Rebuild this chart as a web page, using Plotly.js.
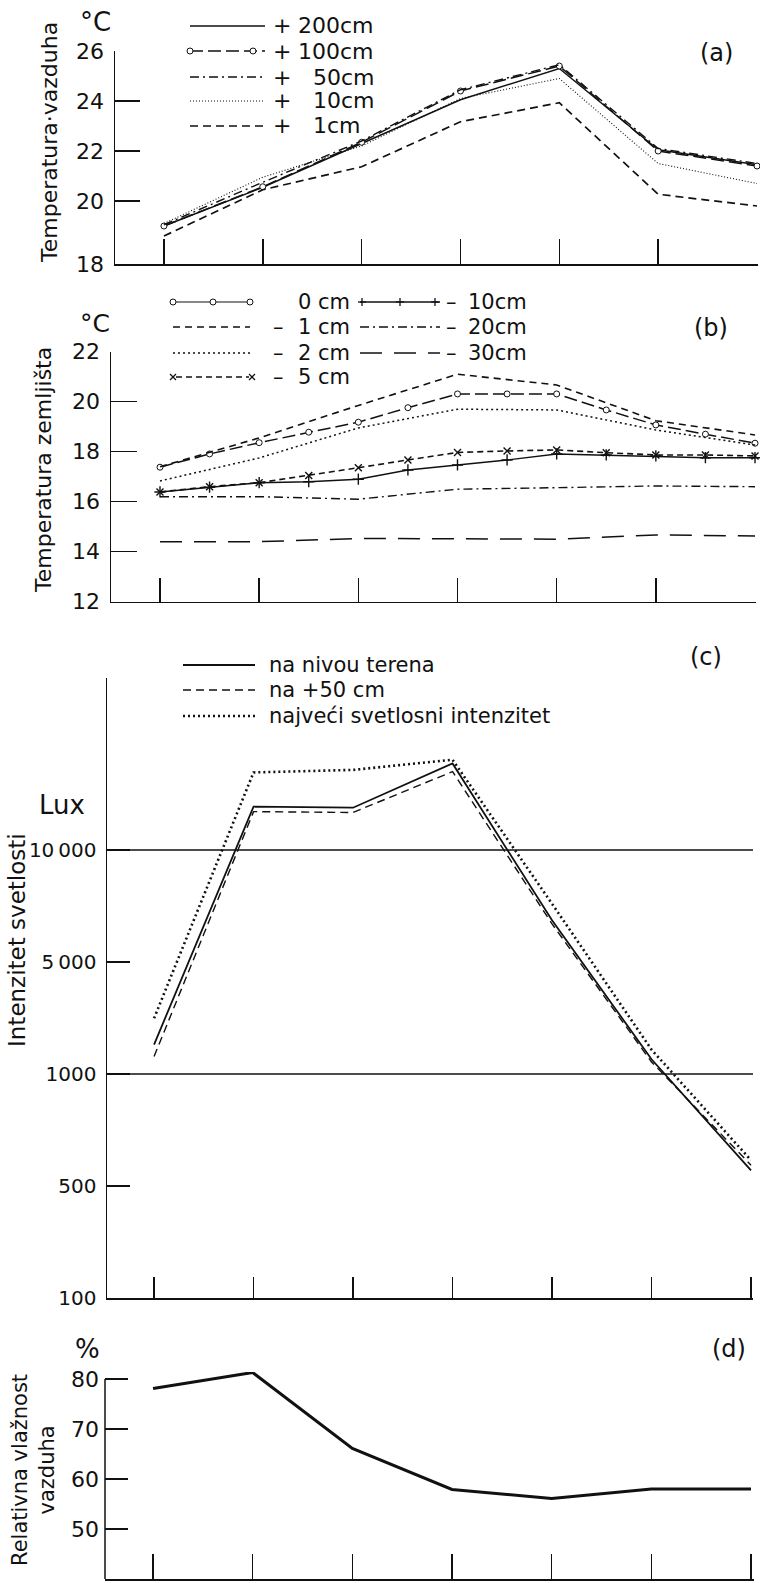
<!DOCTYPE html>
<html><head><meta charset="utf-8">
<script src="https://cdn.plot.ly/plotly-3.0.1.min.js"></script>
<style>html,body{margin:0;padding:0;background:#fff}</style>
</head><body><div id="chart" style="width:760px;height:1583px"></div>
<script>
// ---------- DATA ----------
const xPoints = [0, 1, 2, 3, 4, 5, 6];
const xHalf = [0, 0.5, 1, 1.5, 2, 2.5, 3, 3.5, 4, 4.5, 5, 5.5, 6];

// (a) Temperatura vazduha (°C)
const air200 = [19.0, 20.55, 22.3, 24.05, 25.3, 22.05, 21.45];
const air100 = [19.0, 20.57, 22.35, 24.4, 25.4, 22.0, 21.4];
const air50  = [19.05, 20.75, 22.4, 24.45, 25.45, 22.1, 21.5];
const air10  = [19.1, 20.95, 22.2, 24.1, 24.9, 21.5, 20.7];
const air1   = [18.6, 20.45, 21.37, 23.17, 23.93, 20.27, 19.8];
const airTickVals = [20, 22, 24, 26];
const airTickText = ['20', '22', '24', '26'];
const airBottomLabel = '18';

// (b) Temperatura zemljišta (°C)
const soil0  = [17.38, 17.91, 18.36, 18.78, 19.18, 19.76, 20.31, 20.31, 20.31, 19.67, 19.07, 18.70, 18.34]; // half steps
const soil1  = [17.4, 18.55, 19.85, 21.1, 20.67, 19.24, 18.67];
const soil2  = [16.83, 17.75, 18.95, 19.7, 19.67, 18.87, 18.27];
const soil5  = [16.39, 16.6, 16.76, 17.05, 17.36, 17.67, 17.97, 18.03, 18.07, 17.96, 17.87, 17.87, 17.83]; // half steps
const soil10 = [16.39, 16.58, 16.76, 16.8, 16.9, 17.27, 17.47, 17.67, 17.91, 17.87, 17.83, 17.76, 17.76]; // half steps
const soil20 = [16.2, 16.2, 16.1, 16.5, 16.56, 16.63, 16.6];
const soil30 = [14.4, 14.4, 14.53, 14.53, 14.5, 14.67, 14.63];
const soilTickVals = [12, 14, 16, 18, 20, 22];

// (c) Intenzitet svetlosti (Lux)
const luxGround = [2050, 25500, 25100, 40900, 6860, 1525, 570];
const lux50     = [1625, 23700, 23400, 38000, 6700, 1430, 593];
const luxMax    = [2990, 37700, 38600, 42250, 7600, 1870, 615];
const luxLevels = [100, 500, 1000, 5000, 10000, 50000];   // equally spaced on the drawn axis
const luxTickText = ['100', '500', '1000', '5\u2009000', '10\u2009000'];

// (d) Relativna vlažnost vazduha (%)
const humidity = [78.1, 81.3, 66.1, 57.9, 56.1, 58.0, 58.0];
const humTickVals = [50, 60, 70, 80];

// ---------- HELPERS ----------
const W = 760, H = 1583;
const px = x => x / W;
const py = y => 1 - y / H;
const INK = '#111';
const FONT = 'DejaVu Sans, Arial, sans-serif';

// piecewise axis of panel (c): each labelled value occupies one equal step
function luxToLevel(v) {
  for (let i = 0; i < luxLevels.length - 1; i++) {
    if (v <= luxLevels[i + 1]) return i + (v - luxLevels[i]) / (luxLevels[i + 1] - luxLevels[i]);
  }
  return luxLevels.length - 1;
}

const openCircle = {symbol: 'circle', size: 6, color: '#fff', line: {color: INK, width: 1}};
const xMark = {symbol: 'x-thin', size: 7, color: INK, line: {color: INK, width: 1.4}};
const plusMark = {symbol: 'cross-thin', size: 8, color: INK, line: {color: INK, width: 1.4}};

function tr(x, y, n, dash, width, marker) {
  const t = {type: 'scatter', x: x, y: y, xaxis: 'x' + (n > 1 ? n : ''), yaxis: 'y' + (n > 1 ? n : ''),
    mode: marker ? 'lines+markers' : 'lines', line: {color: INK, width: width, dash: dash},
    hoverinfo: 'skip', showlegend: false, cliponaxis: false};
  if (marker) t.marker = marker;
  return t;
}

const D = {
  solid: 'solid',
  longdash: '13px,5px',
  dashdot: '9px,4px,2px,4px',
  dotfine: '1px,2px',
  dash: '8px,5px',
  dashS: '7px,5px',
  dotted: '2px,3px',
  dash5: '6px,4px',
  longgap: '22px,12px'
};

const traces = [
  // (a)
  tr(xPoints, air200, 1, D.solid, 1.4),
  tr(xPoints, air100, 1, D.longdash, 1.5, openCircle),
  tr(xPoints, air50, 1, D.dashdot, 1.4),
  tr(xPoints, air10, 1, D.dotfine, 1.1),
  tr(xPoints, air1, 1, D.dash, 1.7),
  // (b)
  tr(xHalf, soil0, 2, D.longdash, 1.5, openCircle),
  tr(xPoints, soil1, 2, D.dashS, 1.6),
  tr(xPoints, soil2, 2, D.dotted, 1.5),
  tr(xHalf, soil5, 2, D.dash5, 1.6, xMark),
  tr(xHalf, soil10, 2, D.solid, 1.4, plusMark),
  tr(xPoints, soil20, 2, D.dashdot, 1.4),
  tr(xPoints, soil30, 2, D.longgap, 1.5),
  // (c)
  tr(xPoints, luxGround.map(luxToLevel), 3, D.solid, 1.8),
  tr(xPoints, lux50.map(luxToLevel), 3, D.dash, 1.4),
  tr(xPoints, luxMax.map(luxToLevel), 3, D.dotted, 2.6),
  // (d)
  tr(xPoints, humidity, 4, D.solid, 3)
];

function xAxis(left, right, rng, anchor, ticklen, lw) {
  return {domain: [px(left), px(right)], range: rng, anchor: anchor, tickvals: xPoints,
    showticklabels: false, ticks: 'inside', ticklen: ticklen, tickwidth: 1.5, tickcolor: INK,
    showline: true, linecolor: INK, linewidth: lw || 1.5, showgrid: false, zeroline: false, fixedrange: true};
}
function yAxis(top, bottom, rng, anchor, tickvals, ticktext, ticklen, showline) {
  return {domain: [py(bottom), py(top)], range: rng, anchor: anchor, tickvals: tickvals, ticktext: ticktext,
    ticks: 'inside', ticklen: ticklen, tickwidth: 1.5, tickcolor: INK, ticklabelstandoff: 5,
    tickfont: {family: FONT, size: 22, color: INK},
    showline: showline !== false, linecolor: INK, linewidth: 1.5, showgrid: false, zeroline: false, fixedrange: true};
}

// (a) the drawn scale is broken below 20: the bottom of the axis is labelled 18
const airBottom = 20 - 63 / 25;
const aTickVals = [airBottom].concat(airTickVals);
const aTickText = [airBottomLabel].concat(airTickText);

const cTop = (1298 - 678) / 112;

const layout = {
  width: W, height: H, margin: {l: 0, r: 0, t: 0, b: 0},
  paper_bgcolor: '#fff', plot_bgcolor: 'rgba(0,0,0,0)',
  font: {family: FONT, color: INK},
  xaxis: xAxis(115, 758, [-0.495, 6.01], 'y', 25),
  yaxis: yAxis(51, 264, [airBottom, 26], 'x', aTickVals, aTickText, 25),
  xaxis2: xAxis(111, 756, [-0.494, 6.01], 'y2', 24),
  yaxis2: yAxis(351.7, 601.7, [12, 22], 'x2', soilTickVals, soilTickVals.map(String), 26),
  xaxis3: xAxis(107, 753, [-0.473, 6.02], 'y3', 21),
  yaxis3: yAxis(678, 1298, [0, cTop], 'x3', [0, 1, 2, 3, 4], luxTickText, 23),
  xaxis4: xAxis(105, 754, [-0.482, 6.03], 'y4', 25, 2),
  yaxis4: yAxis(1372, 1579, [40, 81.4], 'x4', humTickVals, humTickVals.map(String), 23, false),
  shapes: [], annotations: []
};
layout.yaxis3.tickfont.size = 20;

// gridlines at 10 000 and 1000 in (c)
[2, 4].forEach(l => layout.shapes.push({type: 'line', xref: 'x3 domain', yref: 'y3', x0: 0, x1: 1, y0: l, y1: l,
  line: {color: INK, width: 1.4}}));
// y axis line of (d) stops at 80
layout.shapes.push({type: 'line', xref: 'x4 domain', yref: 'y4', x0: 0, x1: 0, y0: 40, y1: 80, line: {color: INK, width: 1.5}});

function ann(text, x, y, size, xanchor, angle) {
  layout.annotations.push({text: text, xref: 'paper', yref: 'paper', x: px(x), y: py(y),
    xanchor: xanchor || 'center', yanchor: 'middle', showarrow: false, textangle: angle || 0,
    font: {family: FONT, size: size, color: INK}, borderpad: 0});
}
function seg(x0, y0, x1, y1, dash, width) {
  layout.shapes.push({type: 'line', xref: 'paper', yref: 'paper', x0: px(x0), y0: py(y0), x1: px(x1), y1: py(y1),
    line: {color: INK, width: width || 1.4, dash: dash || 'solid'}});
}
function circ(cx, cy) {
  layout.shapes.push({type: 'circle', xref: 'paper', yref: 'paper', x0: px(cx - 3), x1: px(cx + 3), y0: py(cy + 3), y1: py(cy - 3),
    fillcolor: '#fff', line: {color: INK, width: 1}});
}
function plus(cx, cy) { seg(cx - 4, cy, cx + 4, cy, 'solid', 1.3); seg(cx, cy - 4, cx, cy + 4, 'solid', 1.3); }
function cross(cx, cy) { seg(cx - 3, cy - 3, cx + 3, cy + 3, 'solid', 1.2); seg(cx - 3, cy + 3, cx + 3, cy - 3, 'solid', 1.2); }

// ----- panel (a) texts and legend -----
ann('°C', 95, 22, 26);
ann('(a)', 716, 53, 24);
ann('Temperatura·vazduha', 50, 143, 22, 'center', -90);
const aRows = [26, 51, 77, 101, 126];
const aNames = ['200cm', '100cm', '50cm', '10cm', '1cm'];
const aNameX = [297, 297, 312, 312, 312];
const aDash = [D.solid, D.longdash, D.dashdot, D.dotfine, D.dash];
aRows.forEach((y, i) => {
  seg(190, y, 265, y, aDash[i], i === 3 ? 1.1 : 1.4);
  ann('+', 282, y, 22);
  ann(aNames[i], aNameX[i], y, 22, 'left');
});
circ(190, 51); circ(253, 51);

// ----- panel (b) texts and legend -----
ann('°C', 95, 323, 25);
ann('(b)', 711, 328, 24);
ann('Temperatura zemljišta', 43, 470, 22, 'center', -90);
const bRows = [302, 327, 353, 377];
const bLeftNames = ['0 cm', '1 cm', '2 cm', '5 cm'];
const bLeftDash = [D.solid, D.dashS, D.dotted, D.dash5];
bRows.forEach((y, i) => {
  if (i === 0) { seg(173, y, 250, y, 'solid', 1.2); circ(173, y); circ(213, y); circ(250, y); }
  else if (i === 3) { seg(176, y, 249, y, D.dash5, 1.3); cross(173, y); cross(252, y); }
  else seg(173, y, 250, y, bLeftDash[i], 1.4);
  if (i > 0) ann('–', 278, y, 21);
  ann(bLeftNames[i], 297, y, 21, 'left');
});
const bRightNames = ['10cm', '20cm', '30cm'];
const bRightDash = [D.solid, D.dashdot, D.longgap];
bRows.slice(0, 3).forEach((y, i) => {
  seg(360, y, 440, y, bRightDash[i], 1.3);
  if (i === 0) { plus(362, y); plus(400, y); plus(435, y); }
  ann('–', 451, y, 21);
  ann(bRightNames[i], 467, y, 21, 'left');
});

// ----- panel (c) texts and legend -----
ann('(c)', 706, 657, 24);
ann('Lux', 62, 805, 26);
ann('Intenzitet svetlosti', 17, 940, 23, 'center', -90);
const cRows = [665, 690, 716];
const cNames = ['na nivou terena', 'na +50 cm', 'najveći svetlosni intenzitet'];
const cDash = [D.solid, D.dash, D.dotted];
const cWidth = [2, 1.6, 2.4];
cRows.forEach((y, i) => {
  seg(183, y, 255, y, cDash[i], cWidth[i]);
  ann(cNames[i], 268, y, 21, 'left');
});

// ----- panel (d) texts -----
ann('%', 87, 1349, 26);
ann('(d)', 729, 1349, 24);
ann('Relativna vlažnost<br>vazduha', 33, 1470, 21, 'center', -90);

Plotly.newPlot('chart', traces, layout, {displayModeBar: false, staticPlot: true});
</script>
</body></html>
